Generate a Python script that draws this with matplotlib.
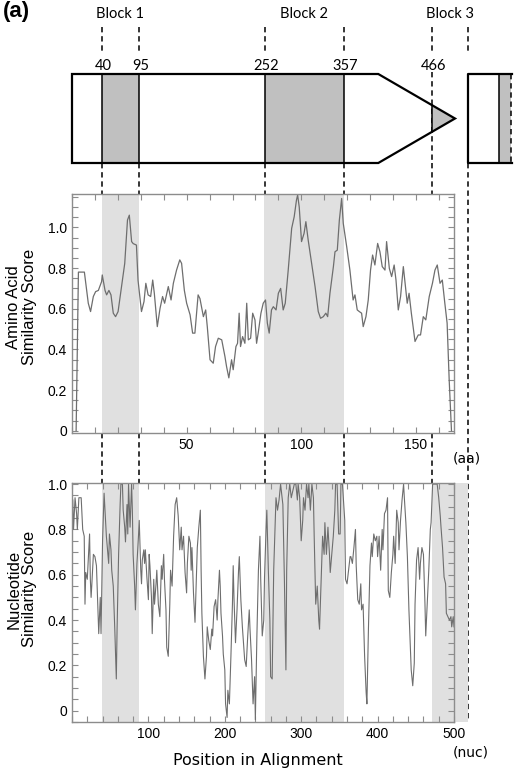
import matplotlib
matplotlib.use("Agg")
import matplotlib.pyplot as plt
from matplotlib.patches import Polygon, Rectangle
from matplotlib.ticker import MultipleLocator

# ---- data ----
# block boundaries (nucleotide positions) and their printed labels
block_edges = [38.9, 87.8, 252.2, 356.2, 471.6, 518.0]
edge_labels = ["40", "95", "252", "357", "466"]
block_names = ["Block 1", "Block 2", "Block 3"]

# shaded regions in amino-acid panel (aa units)
aa_blocks = [(12.9, 29.2), (83.9, 118.5)]
# shaded regions in nucleotide panel (nuc units)
nuc_blocks = [(38.9, 87.8), (252.2, 356.2), (471.6, 518.0)]

aa_pos = [1.8, 2.2, 2.8, 4.0, 5.4, 7.1, 8.1, 9.3, 10.3, 11.5, 12.9, 13.2, 14.4, 15.1,
          16.1, 17.0, 18.0, 19.0, 20.1, 21.6, 23.0, 24.2, 25.0, 26.0, 26.7, 28.1, 28.8,
          30.3, 31.4, 32.2, 33.2, 34.3, 35.2, 35.9, 37.2, 38.4, 39.5, 40.4, 42.0, 43.2,
          44.2, 45.6, 47.0, 47.8, 49.0, 50.0, 51.5, 52.6, 53.6, 55.0, 55.8, 57.3, 58.3,
          59.0, 60.2, 61.6, 62.6, 63.8, 65.3, 66.7, 67.4, 68.4, 69.6, 70.3, 71.5, 72.2,
          72.9, 73.5, 74.4, 75.4, 76.2, 76.9, 77.9, 78.8, 79.8, 80.5, 81.2, 82.4, 83.4,
          84.4, 85.2, 86.0, 87.0, 87.8, 89.0, 90.0, 91.0, 92.1, 93.0, 94.3, 95.8, 96.9,
          97.9, 98.4, 99.1, 100.1, 101.2, 102.0, 103.0, 104.5, 106.0, 107.4, 108.4,
          109.6, 110.7, 111.5, 112.5, 114.0, 114.7, 115.7, 116.6, 117.6, 118.3, 119.8,
          121.2, 122.6, 123.4, 124.4, 125.3, 126.3, 127.0, 128.2, 129.2, 130.2, 131.1,
          132.1, 133.3, 134.3, 135.3, 136.5, 137.2, 138.4, 139.4, 140.5, 141.3, 142.3,
          143.3, 144.5, 145.6, 146.2, 147.0, 148.0, 149.6, 151.0, 152.0, 153.2, 154.3,
          155.8, 157.2, 158.3, 159.3, 160.5, 161.5, 162.6, 163.6, 164.5, 165.5]
aa_score = [0.0, 0.30, 0.78, 0.78, 0.78, 0.627, 0.586, 0.66, 0.684, 0.69, 0.733, 0.766,
            0.69, 0.668, 0.69, 0.668, 0.578, 0.561, 0.586, 0.709, 0.823, 1.036, 1.06,
            0.93, 0.92, 0.913, 0.74, 0.586, 0.635, 0.725, 0.668, 0.66, 0.741, 0.676,
            0.512, 0.602, 0.66, 0.627, 0.709, 0.643, 0.725, 0.79, 0.84, 0.823, 0.69,
            0.627, 0.57, 0.48, 0.48, 0.668, 0.65, 0.561, 0.594, 0.512, 0.349, 0.332,
            0.414, 0.455, 0.447, 0.365, 0.316, 0.26, 0.349, 0.30, 0.414, 0.43, 0.578,
            0.414, 0.463, 0.43, 0.627, 0.447, 0.455, 0.578, 0.545, 0.43, 0.48, 0.578,
            0.627, 0.643, 0.529, 0.48, 0.594, 0.61, 0.594, 0.676, 0.70, 0.594, 0.627,
            0.79, 0.995, 1.052, 1.134, 1.159, 1.10, 0.93, 0.97, 1.028, 0.938, 0.823,
            0.709, 0.586, 0.553, 0.561, 0.578, 0.561, 0.676, 0.807, 0.88, 0.888, 1.036,
            1.142, 1.02, 0.905, 0.79, 0.643, 0.668, 0.594, 0.586, 0.578, 0.512, 0.561,
            0.643, 0.79, 0.864, 0.815, 0.921, 0.88, 0.807, 0.79, 0.93, 0.798, 0.758,
            0.815, 0.741, 0.594, 0.66, 0.807, 0.69, 0.627, 0.676, 0.578, 0.439, 0.471,
            0.471, 0.561, 0.545, 0.66, 0.725, 0.79, 0.815, 0.725, 0.741, 0.627, 0.529,
            0.25, 0.0]

nuc_pos = [1, 2, 4, 6, 7, 9, 12, 14, 16, 17, 18, 20, 21, 23, 24, 25, 26, 28, 30, 32,
           34, 35, 37, 38, 40, 42, 44, 45, 48, 49, 51, 52, 54, 56, 58, 59, 61, 63, 64,
           66, 67, 69, 70, 72, 73, 74, 76, 78, 79, 80, 82, 83, 85, 87, 88, 90, 91, 92,
           94, 95, 96, 98, 100, 101, 102, 104, 105, 107, 108, 110, 111, 113, 115, 117,
           118, 120, 121, 123, 124, 126, 128, 129, 131, 133, 135, 137, 139, 141, 143,
           144, 146, 148, 150, 151, 153, 155, 156, 157, 159, 161, 163, 164, 166, 168,
           169, 170, 172, 174, 176, 177, 179, 181, 183, 184, 186, 188, 190, 191, 193,
           194, 195, 197, 198, 200, 201, 203, 204, 206, 208, 210, 211, 212, 214, 216,
           218, 219, 221, 223, 225, 226, 228, 230, 232, 233, 235, 237, 239, 240, 242,
           244, 246, 247, 249, 251, 252, 254, 255, 257, 259, 260, 262, 264, 266, 267,
           269, 271, 273, 274, 276, 278, 280, 281, 283, 285, 287, 289, 291, 293, 295,
           296, 298, 300, 302, 303, 305, 307, 309, 310, 312, 314, 316, 317, 319, 321,
           323, 324, 326, 328, 330, 331, 333, 335, 337, 338, 340, 342, 344, 345, 347,
           349, 351, 352, 354, 357, 358, 360, 362, 364, 365, 367, 369, 371, 372, 374,
           376, 378, 379, 381, 383, 385, 386, 388, 390, 392, 393, 395, 397, 399, 400,
           402, 404, 406, 407, 409, 411, 413, 414, 416, 418, 420, 421, 423, 425, 427,
           428, 430, 432, 434, 435, 437, 439, 441, 442, 444, 446, 448, 449, 451, 453,
           455, 456, 458, 460, 462, 463, 465, 467, 469, 470, 472, 474, 476, 478, 480,
           482, 483, 485, 487, 489, 490, 492, 494, 496, 497, 499, 500]
nuc_score = [0.93, 0.80, 0.94, 0.87, 0.80, 0.94, 0.94, 0.80, 0.77, 0.47, 0.61, 0.58,
             0.65, 0.78, 0.58, 0.50, 0.56, 0.69, 0.68, 0.64, 0.445, 0.34, 0.50, 0.34,
             0.75, 0.96, 0.83, 0.77, 0.65, 0.78, 0.71, 0.62, 0.55, 0.36, 0.14, 0.36,
             0.69, 0.91, 1.0, 1.0, 0.885, 0.81, 0.745, 0.91, 0.78, 1.0, 0.81, 1.0, 0.885,
             0.69, 0.55, 0.445, 0.65, 0.77, 0.84, 0.62, 0.56, 0.665, 0.71, 0.65, 0.71,
             0.59, 0.49, 0.69, 0.64, 0.50, 0.34, 0.58, 0.47, 0.56, 0.62, 0.47, 0.415,
             0.64, 0.58, 0.69, 0.58, 0.445, 0.28, 0.24, 0.47, 0.62, 0.55, 0.77, 0.91,
             0.94, 0.86, 0.71, 0.81, 0.71, 0.77, 0.61, 0.52, 0.65, 0.77, 0.74, 0.62,
             0.72, 0.52, 0.39, 0.61, 0.72, 0.81, 0.885, 0.62, 0.43, 0.24, 0.14, 0.24,
             0.37, 0.31, 0.27, 0.36, 0.33, 0.46, 0.49, 0.40, 0.49, 0.62, 0.55, 0.43,
             0.33, 0.25, 0.18, 0.03, -0.03, 0.09, 0.03, 0.24, 0.47, 0.64, 0.50, 0.30,
             0.445, 0.62, 0.68, 0.49, 0.37, 0.27, 0.225, 0.195, 0.33, 0.445, 0.36,
             0.225, 0.03, 0.15, -0.04, 0.33, 0.62, 0.77, 0.58, 0.33, 0.40, 0.59, 0.80,
             0.885, 0.62, 0.40, 0.15, 0.14, 0.62, 0.84, 0.94, 0.885, 0.93, 1.0, 0.97,
             0.91, 0.58, 0.18, 0.62, 0.94, 1.0, 0.94, 0.97, 1.0, 1.0, 0.93, 1.0, 0.94,
             0.75, 0.84, 0.94, 0.885, 1.0, 0.94, 1.0, 0.885, 1.0, 0.94, 0.77, 0.47,
             0.55, 0.40, 0.36, 0.56, 0.77, 0.69, 0.83, 0.69, 0.81, 0.69, 0.61, 0.69,
             0.77, 0.885, 1.0, 1.0, 0.78, 0.78, 1.0, 1.0, 0.84, 0.58, 0.56, 0.62, 0.68,
             0.68, 0.65, 0.72, 0.80, 0.64, 0.49, 0.47, 0.56, 0.445, 0.47, 0.24, 0.08,
             0.03, 0.36, 0.64, 0.74, 0.68, 0.78, 0.75, 0.77, 0.68, 0.77, 0.62, 0.80,
             0.71, 0.87, 0.885, 0.94, 0.53, 0.50, 0.61, 0.69, 0.77, 0.65, 0.885, 0.83,
             0.71, 0.84, 0.93, 1.0, 0.94, 0.83, 0.68, 0.445, 0.36, 0.18, 0.11, 0.21,
             0.47, 0.665, 0.72, 0.58, 0.65, 0.72, 0.69, 0.47, 0.33, 0.47, 0.62, 0.80,
             0.83, 1.0, 1.0, 1.0, 1.0, 0.94, 0.86, 0.81, 0.72, 0.59, 0.56, 0.43, 0.415,
             0.40, 0.415, 0.37, 0.415, 0.37]

# ---- layout (pixels of the 515 x 778 picture) ----
W, H = 515, 778
fig = plt.figure(figsize=(W / 100, H / 100), dpi=100)
plt.rcParams['font.family'] = ['Liberation Sans', 'DejaVu Sans']

def px_axes(left, top, right, bottom, **kw):
    return fig.add_axes([left / W, 1 - bottom / H, (right - left) / W, (bottom - top) / H], **kw)

ax_aa = px_axes(72, 194, 454, 433, zorder=2)
ax_nuc = px_axes(72, 483, 454, 722, zorder=2)

# overlay in nucleotide units for the schematic and dashed guides
ov = fig.add_axes([0, 0, 1, 1], zorder=1)
scale = (454 - 72) / 500
ov.set_xlim(-72 / scale, (W - 72) / scale)
ov.set_ylim(H, 0)
ov.axis('off')

frame = '#8c8c8c'
shade = '#e0e0e0'
curve = '#6e6e6e'


def style_panel(ax):
    for s in ax.spines.values():
        s.set_color(frame)
        s.set_linewidth(1.0)
    ax.tick_params(which='both', direction='in', top=True, right=True,
                   color=frame, labelsize=10, length=4, width=0.8)
    ax.yaxis.set_minor_locator(MultipleLocator(0.05))


# amino acid panel
for a, b in aa_blocks:
    ax_aa.axvspan(a, b, color=shade, lw=0, zorder=0)
ax_aa.plot(aa_pos, aa_score, color=curve, lw=0.9)
ax_aa.set_xlim(0, 166.6)
ax_aa.set_ylim(-0.011, 1.164)
ax_aa.set_xticks([50, 100, 150])
ax_aa.xaxis.set_minor_locator(MultipleLocator(10))
ax_aa.set_yticks([0, 0.2, 0.4, 0.6, 0.8, 1.0])
ax_aa.set_yticklabels(['0', '0.2', '0.4', '0.6', '0.8', '1.0'])
style_panel(ax_aa)
ax_aa.set_ylabel('Amino Acid\nSimilarity Score', fontsize=12, linespacing=1.05)
ax_aa.yaxis.set_label_coords(-0.092, 0.527)

# nucleotide panel
for a, b in nuc_blocks:
    ax_nuc.axvspan(a, b, color=shade, lw=0, zorder=0, clip_on=False)
ax_nuc.plot(nuc_pos, nuc_score, color=curve, lw=0.8)
ax_nuc.set_xlim(0, 500)
ax_nuc.set_ylim(-0.05, 1.005)
ax_nuc.set_xticks([100, 200, 300, 400, 500])
ax_nuc.xaxis.set_minor_locator(MultipleLocator(20))
ax_nuc.set_yticks([0, 0.2, 0.4, 0.6, 0.8, 1.0])
ax_nuc.set_yticklabels(['0', '0.2', '0.4', '0.6', '0.8', '1.0'])
style_panel(ax_nuc)
ax_nuc.set_ylabel('Nucleotide\nSimilarity Score', fontsize=12, linespacing=1.05)
ax_nuc.yaxis.set_label_coords(-0.092, 0.556)

# ---- schematic of the gene ----
y_top, y_bot, y_mid = 74, 163, 118.5
body_end, tip = 400.9, 501.3
outline = [(0, y_top), (body_end, y_top), (tip, y_mid), (body_end, y_bot), (0, y_bot)]
arrow = Polygon(outline, closed=True, facecolor='white', edgecolor='none', zorder=2)
ov.add_patch(arrow)
dash = dict(color='black', lw=1.1, ls=(0, (3.5, 2.5)))

# dashed guide through the arrow head at the Block 3 start
ov.plot([block_edges[4]] * 2, [y_top - 2, y_bot], zorder=2.5, **dash)

gray_blocks = [(block_edges[0], block_edges[1]), (block_edges[2], block_edges[3]),
               (block_edges[4], tip + 5)]
for a, b in gray_blocks:
    r = Rectangle((a, y_top), b - a, y_bot - y_top, facecolor='#c0c0c0',
                  edgecolor='none', zorder=3)
    ov.add_patch(r)
    r.set_clip_path(arrow)
for x in block_edges[:4]:
    ov.plot([x, x], [y_top, y_bot], color='black', lw=1.1, zorder=4)
# left edge of the arrow-head grey part, solid within the gray
edge_at = lambda x: y_top + (x - body_end) / (tip - body_end) * (y_mid - y_top)
ov.plot([block_edges[4]] * 2, [edge_at(block_edges[4]), 2 * y_mid - edge_at(block_edges[4])],
        color='black', lw=1.1, zorder=4)
ov.add_patch(Polygon(outline, closed=True, facecolor='none', edgecolor='black',
                     lw=1.6, zorder=5))

# second small box at the right
bx0, bx1, bgray, bdash = 518.0, 576.3, 558.9, 574.6
ov.add_patch(Rectangle((bgray, y_top), bdash - bgray, y_bot - y_top,
                       facecolor='#c0c0c0', edgecolor='none', zorder=3))
ov.plot([bx1, bx0, bx0, bx1], [y_top, y_top, y_bot, y_bot], color='black', lw=1.6, zorder=5)
ov.plot([bgray, bgray], [y_top, y_bot], color='black', lw=1.1, zorder=5)
ov.plot([bdash, bdash], [y_top, y_bot], zorder=5, **dash)

# dashed guide lines
for i, x in enumerate(block_edges):
    ov.plot([x, x], [27, 53], **dash)
    if i < 5:
        ov.plot([x, x], [y_bot, 194], **dash)
        ov.plot([x, x], [433, 483], **dash)
    else:
        ov.plot([x, x], [y_bot, 722], **dash)

diag_font = ['Lato', 'DejaVu Sans']
for x, lab in zip(block_edges[:5], edge_labels):
    ov.text(x + 2, 66, lab, ha='center', va='center', fontsize=10.5, family=diag_font)
for k, name in enumerate(block_names):
    xc = (block_edges[2 * k] + block_edges[2 * k + 1]) / 2
    ov.text(xc, 14, name, ha='center', va='center', fontsize=10.5, family=diag_font)

ov.text(-91, 1, '(a)', ha='left', va='top', fontsize=16, fontweight='bold')

# axis unit notes and x label
fig.text(467 / W, 1 - 458 / H, '(aa)', ha='center', va='center', fontsize=10,
         family='DejaVu Sans')
fig.text(471 / W, 1 - 752 / H, '(nuc)', ha='center', va='center', fontsize=10,
         family='DejaVu Sans')
fig.text(258 / W, 1 - 761 / H, 'Position in Alignment', ha='center', va='center',
         fontsize=11.5, family='DejaVu Sans')

fig.savefig('out.png', dpi=100)
